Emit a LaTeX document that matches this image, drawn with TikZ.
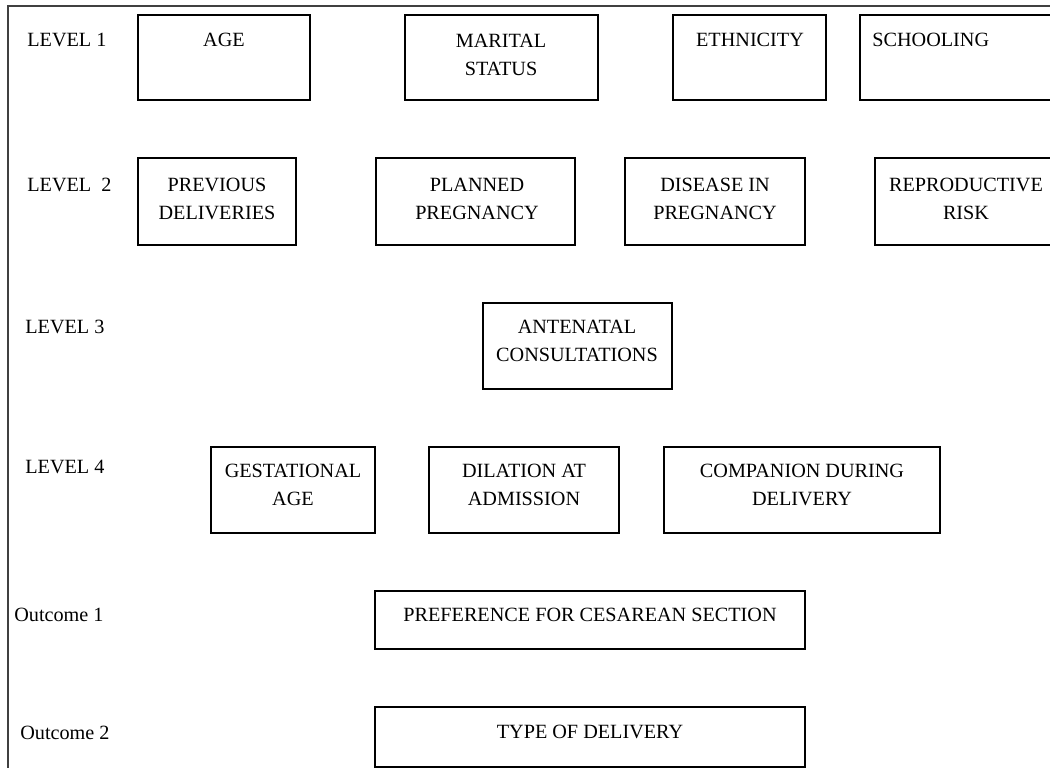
\documentclass[tikz,border=0pt]{standalone}
\usepackage{fontspec}
\setmainfont{Liberation Serif}
\usepackage{tikz}

\tikzset{
  box/.style={line width=1pt},
  txt/.style={font=\fontsize{11.5}{16}\selectfont,align=center,inner sep=0pt},
  lev/.style={font=\fontsize{11.5}{16}\selectfont,align=left,anchor=west,inner sep=0pt}
}

\begin{document}
\begin{tikzpicture}[x=0.02cm,y=-0.02cm]
\clip (0,0) rectangle (1050,768);
\fill [white] (0,0) rectangle (1050,768);
\draw [line width=0.8pt,black!75] (1050,6) -- (8,6) -- (8,768);

% level 1
\node [lev] (lev1) at (27,40) {LEVEL 1};
\draw [box] (138,15) rectangle (310,100);
\node [txt] (age) at (224,40) {AGE};
\draw [box] (405,15) rectangle (598,100);
\node [txt] (marital) at (501,55) {MARITAL\\STATUS};
\draw [box] (673,15) rectangle (826,100);
\node [txt] (ethnic) at (750,40) {ETHNICITY};
\draw [box] (860,15) rectangle (1060,100);
\node [txt,anchor=west] (school) at (872,40) {SCHOOLING};

% level 2
\node [lev] (lev2) at (27,185) {LEVEL\ \ 2};
\draw [box] (138,158) rectangle (296,245);
\node [txt] (prevdel) at (217,199) {PREVIOUS\\DELIVERIES};
\draw [box] (376,158) rectangle (575,245);
\node [txt] (planned) at (477,199) {PLANNED\\PREGNANCY};
\draw [box] (625,158) rectangle (805,245);
\node [txt] (disease) at (715,199) {DISEASE IN\\PREGNANCY};
\draw [box] (875,158) rectangle (1060,245);
\node [txt] (reprisk) at (966,199) {REPRODUCTIVE\\RISK};

% level 3
\node [lev] (lev3) at (25,327) {LEVEL 3};
\draw [box] (483,303) rectangle (672,389);
\node [txt] (antenatal) at (577,341) {ANTENATAL\\CONSULTATIONS};

% level 4
\node [lev] (lev4) at (25,467) {LEVEL 4};
\draw [box] (211,447) rectangle (375,533);
\node [txt] (gestage) at (293,485) {GESTATIONAL\\AGE};
\draw [box] (429,447) rectangle (619,533);
\node [txt] (dilation) at (524,485) {DILATION AT\\ADMISSION};
\draw [box] (664,447) rectangle (940,533);
\node [txt] (companion) at (802,485) {COMPANION DURING\\DELIVERY};

% outcomes
\node [lev] (out1) at (14,615) {Outcome 1};
\draw [box] (375,591) rectangle (805,649);
\node [txt] (cesarean) at (590,615) {PREFERENCE FOR CESAREAN SECTION};
\node [lev] (out2) at (20,733) {Outcome 2};
\draw [box] (375,707) rectangle (805,767);
\node [txt] (deltype) at (590,732) {TYPE OF DELIVERY};
\end{tikzpicture}
\end{document}
